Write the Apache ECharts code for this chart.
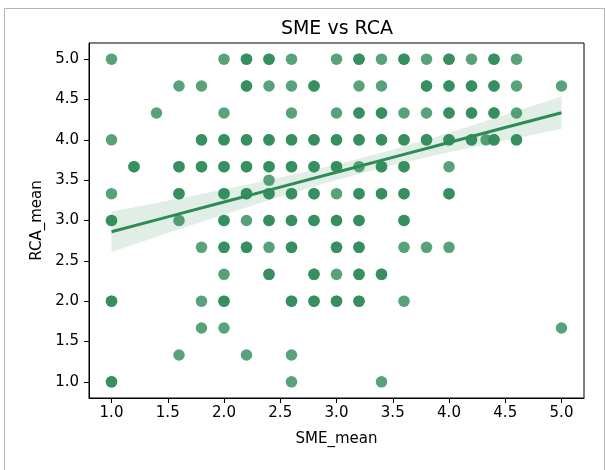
<!DOCTYPE html>
<html>
<head>
<meta charset="utf-8">
<script src="https://cdn.jsdelivr.net/npm/echarts@6/dist/echarts.min.js"></script>
<style>
html,body{margin:0;padding:0;background:#fff;}
#c{width:606px;height:470px;}
</style>
</head>
<body>
<div id="c"></div>
<script>
// ---- data ----
// one entry per visible dot; count = 2 where the dot is darker (overlapping observations)
const smeMean = [
  1.0,2.0,2.2,2.4,2.6,3.0,3.2,3.4,3.6,3.8,4.0,4.2,4.4,4.6,
  1.6,1.8,2.2,2.4,2.6,2.8,3.2,3.4,3.8,4.0,4.2,4.4,4.6,5.0,
  1.4,2.0,2.6,3.0,3.2,3.4,3.6,3.8,4.0,4.2,4.4,4.6,
  1.0,1.8,2.0,2.2,2.4,2.6,2.8,3.0,3.2,3.4,3.6,3.8,4.0,4.2,4.33,4.4,4.6,
  1.2,1.6,1.8,2.0,2.2,2.4,2.6,2.8,3.0,3.2,3.4,3.6,4.0,
  2.4,
  1.0,1.6,2.0,2.2,2.4,2.6,2.8,3.0,3.2,3.4,3.6,4.0,
  1.0,1.6,2.0,2.2,2.4,2.6,2.8,3.0,3.2,3.6,
  1.8,2.0,2.2,2.4,2.6,3.0,3.2,3.6,3.8,4.0,
  2.0,2.4,2.8,3.0,3.2,3.4,
  1.0,1.8,2.0,2.6,2.8,3.0,3.2,3.6,
  1.8,2.0,5.0,
  1.6,2.2,2.6,
  1.0,2.6,3.4
];
const rcaMean = [
  5,5,5,5,5,5,5,5,5,5,5,5,5,5,
  4.667,4.667,4.667,4.667,4.667,4.667,4.667,4.667,4.667,4.667,4.667,4.667,4.667,4.667,
  4.333,4.333,4.333,4.333,4.333,4.333,4.333,4.333,4.333,4.333,4.333,4.333,
  4,4,4,4,4,4,4,4,4,4,4,4,4,4,4,4,4,
  3.667,3.667,3.667,3.667,3.667,3.667,3.667,3.667,3.667,3.667,3.667,3.667,3.667,
  3.5,
  3.333,3.333,3.333,3.333,3.333,3.333,3.333,3.333,3.333,3.333,3.333,3.333,
  3,3,3,3,3,3,3,3,3,3,
  2.667,2.667,2.667,2.667,2.667,2.667,2.667,2.667,2.667,2.667,
  2.333,2.333,2.333,2.333,2.333,2.333,
  2,2,2,2,2,2,2,2,
  1.667,1.667,1.667,
  1.333,1.333,1.333,
  1,1,1
];
const dotCount = [
  1,1,2,2,1,1,2,1,2,1,2,1,2,1,
  1,1,2,1,1,2,1,1,2,2,2,2,1,1,
  1,1,1,1,2,2,1,1,2,2,2,1,
  1,2,2,2,2,2,2,2,2,2,2,2,2,2,1,2,2,
  2,2,2,2,2,2,2,2,2,1,2,2,1,
  1,
  1,2,2,2,2,2,2,1,2,2,2,2,
  2,1,2,1,2,2,2,2,2,2,
  1,2,2,1,2,2,2,1,1,1,
  1,2,2,1,2,2,
  2,1,2,2,2,2,2,1,
  1,1,1,
  1,1,1,
  2,1,1
];
// regression line and its confidence band, read at these x positions
const fitX     = [1.0, 1.5, 2.0, 2.5, 3.0, 3.5, 4.0, 4.5, 5.0];
const fitY     = [2.86, 3.045, 3.229, 3.414, 3.598, 3.783, 3.967, 4.152, 4.336];
const bandUp   = [3.11, 3.245, 3.384, 3.534, 3.693, 3.878, 4.087, 4.312, 4.536];
const bandLow  = [2.61, 2.845, 3.074, 3.294, 3.503, 3.688, 3.847, 3.992, 4.136];
const tickVals = [1.0, 1.5, 2.0, 2.5, 3.0, 3.5, 4.0, 4.5, 5.0];

// ---- build ----
const pts = [];
for (let i = 0; i < smeMean.length; i++) {
  for (let k = 0; k < dotCount[i]; k++) pts.push([smeMean[i], rcaMean[i]]);
}
const lineData = fitX.map((x, i) => [x, fitY[i]]);

const FONT = 'DejaVu Sans';
const GREEN = '#2E8B57';

const axisCommon = {
  type: 'value', min: 0.8, max: 5.2,
  splitLine: { show: false },
  axisLine: { show: true, onZero: false, lineStyle: { color: '#000', width: 1 } },
  axisTick: { show: true, inside: false, length: 5, customValues: tickVals, lineStyle: { color: '#000', width: 1 } },
  axisLabel: { customValues: tickVals, color: '#000', fontFamily: FONT, fontSize: 15, margin: 8,
               formatter: v => v.toFixed(1) },
  nameLocation: 'middle',
  nameTextStyle: { color: '#000', fontFamily: FONT, fontSize: 15 }
};

const chart = echarts.init(document.getElementById('c'), null, { renderer: 'canvas' });
chart.setOption({
  animation: false,
  backgroundColor: '#fff',
  title: {
    text: 'SME vs RCA', left: 332, top: 15, textAlign: 'center',
    textStyle: { color: '#000', fontFamily: FONT, fontSize: 19, fontWeight: 'normal' }
  },
  graphic: [{
    type: 'rect', shape: { x: 4.5, y: 8.5, width: 600, height: 480 },
    style: { fill: 'none', stroke: '#b4b4b4', lineWidth: 1 }, z: -10, silent: true
  }],
  grid: { left: 89, top: 43, right: 22, bottom: 72, show: true, borderColor: '#000', borderWidth: 1, backgroundColor: '#fff' },
  xAxis: Object.assign({}, axisCommon, { name: 'SME_mean', nameGap: 34 }),
  yAxis: Object.assign({}, axisCommon, { name: 'RCA_mean', nameGap: 43, nameRotate: 90,
    axisLabel: Object.assign({}, axisCommon.axisLabel, { margin: 10 }) }),
  series: [
    {
      type: 'scatter', data: pts, symbolSize: 11.5, z: 2,
      itemStyle: { color: GREEN, opacity: 0.8 }
    },
    {
      type: 'custom', z: 3, data: [0], silent: true,
      renderItem: function (params, api) {
        const poly = [];
        for (let i = 0; i < fitX.length; i++) poly.push(api.coord([fitX[i], bandUp[i]]));
        for (let i = fitX.length - 1; i >= 0; i--) poly.push(api.coord([fitX[i], bandLow[i]]));
        return { type: 'polygon', shape: { points: poly }, style: { fill: 'rgba(46,139,87,0.15)', stroke: 'none' } };
      }
    },
    {
      type: 'line', data: lineData, showSymbol: false, z: 4, silent: true,
      lineStyle: { color: GREEN, width: 3 }
    }
  ]
});
</script>
</body>
</html>
